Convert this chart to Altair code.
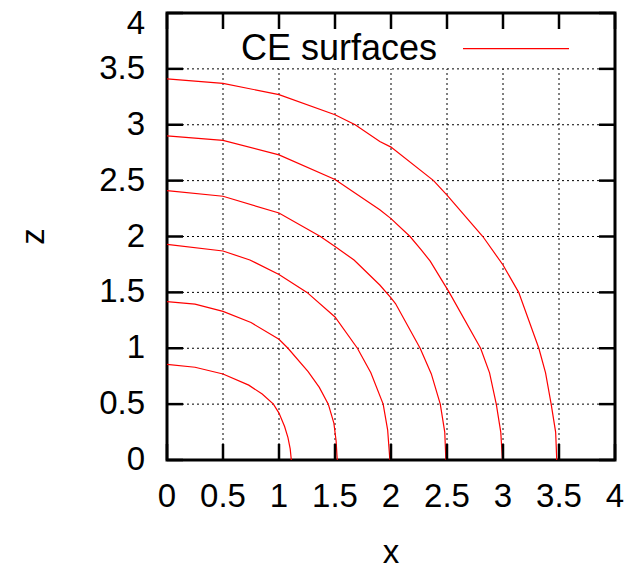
import altair as alt
import pandas as pd

# ---- data ----
curve_ids = ["s1", "s2", "s3", "s4", "s5", "s6"]

s1_x = [0.0, 0.25, 0.5, 0.73, 0.85, 0.95, 1.0, 1.05, 1.08, 1.10, 1.11]
s1_z = [0.856, 0.83, 0.77, 0.67, 0.59, 0.50, 0.42, 0.30, 0.20, 0.10, 0.0]

s2_x = [0.0, 0.25, 0.5, 0.75, 1.0, 1.08, 1.26, 1.36, 1.44, 1.49, 1.51, 1.52]
s2_z = [1.417, 1.395, 1.33, 1.23, 1.08, 1.00, 0.79, 0.65, 0.50, 0.33, 0.17, 0.0]

s3_x = [0.0, 0.5, 0.74, 1.0, 1.25, 1.5, 1.70, 1.82, 1.93, 1.97, 1.99]
s3_z = [1.93, 1.87, 1.79, 1.66, 1.50, 1.28, 1.00, 0.78, 0.50, 0.27, 0.0]

s4_x = [0.0, 0.5, 1.0, 1.37, 1.5, 1.67, 1.90, 2.0, 2.04, 2.26, 2.36, 2.44, 2.48, 2.49]
s4_z = [2.41, 2.36, 2.21, 2.00, 1.91, 1.79, 1.566, 1.45, 1.40, 1.00, 0.77, 0.50, 0.25, 0.0]

s5_x = [0.0, 0.5, 1.0, 1.5, 1.9, 2.0, 2.17, 2.27, 2.35, 2.52, 2.80, 2.88, 2.94, 2.98, 2.995]
s5_z = [2.90, 2.86, 2.73, 2.51, 2.24, 2.16, 2.00, 1.88, 1.78, 1.50, 1.00, 0.78, 0.50, 0.25, 0.0]

s6_x = [0.0, 0.5, 1.0, 1.5, 1.68, 1.90, 2.0, 2.38, 2.5, 2.82, 3.0, 3.14, 3.32, 3.38, 3.43, 3.47, 3.48]
s6_z = [3.41, 3.37, 3.27, 3.09, 3.00, 2.85, 2.80, 2.50, 2.37, 2.00, 1.745, 1.50, 1.00, 0.78, 0.50, 0.25, 0.0]

tick_values = [0, 0.5, 1, 1.5, 2, 2.5, 3, 3.5, 4]
grid_values = [0.5, 1, 1.5, 2, 2.5, 3, 3.5]
legend_label = "CE surfaces"
x_title = "x"
z_title = "z"

# ---- build table ----
rows = []
for cid, xs_, zs_ in zip(curve_ids, [s1_x, s2_x, s3_x, s4_x, s5_x, s6_x],
                         [s1_z, s2_z, s3_z, s4_z, s5_z, s6_z]):
    for i, (xv, zv) in enumerate(zip(xs_, zs_)):
        rows.append({"curve": cid, "idx": i, "x": xv, "z": zv})
df = pd.DataFrame(rows)

W, H = 448, 447
FONT = "Liberation Sans"
FS = 33
xscale = alt.Scale(domain=[0, 4], nice=False, zero=False)
yscale = alt.Scale(domain=[0, 4], nice=False, zero=False)

grid_df = pd.DataFrame({"g": grid_values})
tick_df = pd.DataFrame({"t": tick_values})
leg_df = pd.DataFrame({"label": [legend_label]})
xt_df = pd.DataFrame({"label": [x_title]})
zt_df = pd.DataFrame({"label": [z_title]})

curves = alt.Chart(df).mark_line(color="#ff0000", strokeWidth=1.2).encode(
    x=alt.X("x:Q", scale=xscale, axis=None),
    y=alt.Y("z:Q", scale=yscale, axis=None),
    detail="curve:N",
    order="idx:Q",
)

dash = [2, 3]
vgrid = alt.Chart(grid_df).mark_rule(color="black", strokeWidth=1, strokeDash=dash).encode(
    x=alt.X("g:Q", axis=None),
    y=alt.Y(datum=0, axis=None),
    y2=alt.Y2(datum=3.5),
)
hgrid = alt.Chart(grid_df).mark_rule(color="black", strokeWidth=1, strokeDash=dash).encode(
    y=alt.Y("g:Q", axis=None),
    x=alt.X(datum=0, axis=None),
    x2=alt.X2(datum=4),
)

TL = 16
tick_style = dict(color="black", strokeWidth=2.5)
t_bottom = alt.Chart(tick_df).mark_rule(**tick_style).encode(
    x=alt.X("t:Q", axis=None), y=alt.value(H), y2=alt.value(H - TL))
t_top = alt.Chart(tick_df).mark_rule(**tick_style).encode(
    x=alt.X("t:Q", axis=None), y=alt.value(0), y2=alt.value(TL))
t_left = alt.Chart(tick_df).mark_rule(**tick_style).encode(
    y=alt.Y("t:Q", axis=None), x=alt.value(0), x2=alt.value(TL))
t_right = alt.Chart(tick_df).mark_rule(**tick_style).encode(
    y=alt.Y("t:Q", axis=None), x=alt.value(W), x2=alt.value(W - TL))

# tick labels
lab_style = dict(font=FONT, fontSize=FS, color="black")
xlab = alt.Chart(tick_df).mark_text(align="center", baseline="alphabetic", **lab_style).encode(
    x=alt.X("t:Q", axis=None), y=alt.value(494), text=alt.Text("t:Q", format="~g"))
ylab = alt.Chart(tick_df).transform_filter("datum.t < 4").mark_text(
    align="right", baseline="middle", **lab_style
).encode(y=alt.Y("t:Q", axis=None), x=alt.value(-22), text=alt.Text("t:Q", format="~g"))
# the top label would fall past the page's top edge; nudge it down just enough
ylab_top = alt.Chart(tick_df).transform_filter("datum.t == 4").mark_text(
    align="right", baseline="middle", dy=11, **lab_style
).encode(y=alt.Y("t:Q", axis=None), x=alt.value(-22), text=alt.Text("t:Q", format="~g"))

# axis titles
xtitle = alt.Chart(xt_df).mark_text(align="center", baseline="alphabetic", **lab_style).encode(
    text="label:N", x=alt.value(224), y=alt.value(550))
ztitle = alt.Chart(zt_df).mark_text(
    align="center", baseline="middle", angle=270, **lab_style
).encode(text="label:N", x=alt.value(-133), y=alt.value(223.5))

leg_text = alt.Chart(leg_df).mark_text(
    align="right", baseline="middle", font=FONT, fontSize=36, color="black"
).encode(text="label:N", x=alt.value(270), y=alt.value(36))
leg_line = alt.Chart(leg_df).mark_rule(color="#ff0000", strokeWidth=1.2).encode(
    x=alt.value(296), x2=alt.value(402), y=alt.value(35.7))

chart = alt.layer(
    vgrid, hgrid, curves, t_bottom, t_top, t_left, t_right,
    xlab, ylab, ylab_top, xtitle, ztitle, leg_text, leg_line
).properties(
    width=W, height=H,
    padding={"left": 159, "top": 5, "right": 10, "bottom": 110},
    autosize=alt.AutoSizeParams(type="none"),
).configure_view(stroke="black", strokeWidth=3)

chart.save("out.html", embed_options={"renderer": "svg", "actions": False})
